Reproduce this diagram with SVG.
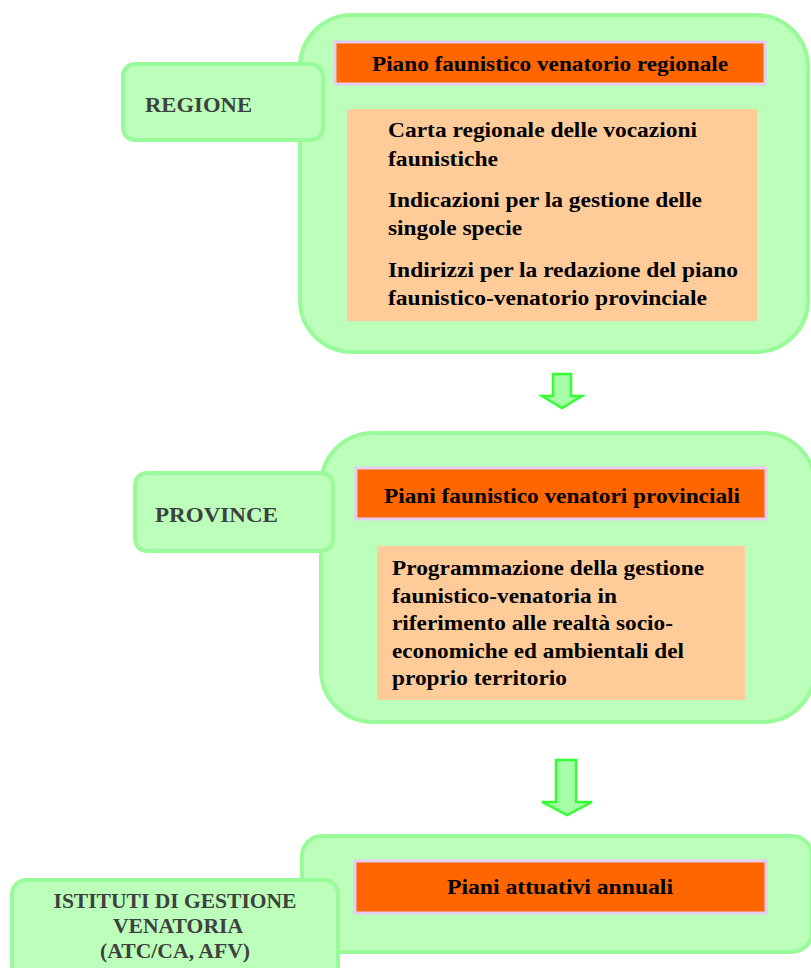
<svg xmlns="http://www.w3.org/2000/svg" width="811" height="968" viewBox="0 0 811 968">
<style>
.big{fill:#BBFFBB;stroke:#99FA99;stroke-width:4}
.lbl{fill:#BBFFBB;stroke:#99FA99;stroke-width:4}
.title{fill:#FF6600;stroke:#E6CCF2;stroke-width:3}
.peach{fill:#FFCC99;stroke:none}
.arrow{fill:#A6FFA6;stroke:#33FF33;stroke-width:2.5;stroke-linejoin:miter}
text{font-family:"Liberation Serif","Times New Roman",serif;font-weight:bold;font-size:22px;fill:#000}
.lt{fill:#404040}
</style>
<rect width="811" height="968" fill="#FFFFFF"/>
<g id="regione-panel">
<rect class="big" x="300" y="15" width="508" height="337" rx="52" ry="52"/>
<rect class="title" x="335" y="42" width="430" height="42"/>
<text x="550" y="71" text-anchor="middle" textLength="356" lengthAdjust="spacingAndGlyphs" style="font-size:21px">Piano faunistico venatorio regionale</text>
<rect class="peach" x="347" y="109" width="410" height="212"/>
<text x="388" y="137" textLength="309" lengthAdjust="spacingAndGlyphs">Carta regionale delle vocazioni</text>
<text x="388" y="166" textLength="110" lengthAdjust="spacingAndGlyphs">faunistiche</text>
<text x="388" y="207" textLength="314" lengthAdjust="spacingAndGlyphs">Indicazioni per la gestione delle</text>
<text x="388" y="235" textLength="134" lengthAdjust="spacingAndGlyphs">singole specie</text>
<text x="388" y="277" textLength="350" lengthAdjust="spacingAndGlyphs">Indirizzi per la redazione del piano</text>
<text x="388" y="305" textLength="319" lengthAdjust="spacingAndGlyphs">faunistico-venatorio provinciale</text>
</g>
<g id="regione-label">
<rect class="lbl" x="123" y="64" width="200" height="76" rx="12" ry="12"/>
<text class="lt" x="145" y="112" textLength="107" lengthAdjust="spacingAndGlyphs">REGIONE</text>
</g>
<g id="province-panel">
<rect class="big" x="321" y="433" width="494" height="289" rx="52" ry="52"/>
<rect class="title" x="356" y="468" width="410" height="51"/>
<text x="562" y="503" text-anchor="middle" textLength="356" lengthAdjust="spacingAndGlyphs" style="font-size:21px">Piani faunistico venatori provinciali</text>
<rect class="peach" x="377" y="546" width="368" height="154"/>
<text x="392" y="575" textLength="312" lengthAdjust="spacingAndGlyphs">Programmazione della gestione</text>
<text x="392" y="603" textLength="225" lengthAdjust="spacingAndGlyphs">faunistico-venatoria in</text>
<text x="392" y="630" textLength="281" lengthAdjust="spacingAndGlyphs">riferimento alle realtà socio-</text>
<text x="392" y="658" textLength="292" lengthAdjust="spacingAndGlyphs">economiche ed ambientali del</text>
<text x="392" y="685" textLength="175" lengthAdjust="spacingAndGlyphs">proprio territorio</text>
</g>
<g id="province-label">
<rect class="lbl" x="135" y="473" width="198" height="78" rx="12" ry="12"/>
<text class="lt" x="155" y="522" textLength="123" lengthAdjust="spacingAndGlyphs">PROVINCE</text>
</g>
<g id="istituti-panel">
<rect class="big" x="302" y="836" width="510" height="116" rx="20" ry="20"/>
<rect class="title" x="355" y="861" width="411" height="52"/>
<text x="560" y="894" text-anchor="middle" textLength="226" lengthAdjust="spacingAndGlyphs" style="font-size:21px">Piani attuativi annuali</text>
</g>
<g id="istituti-label">
<rect class="lbl" x="12" y="880" width="326" height="100" rx="14" ry="14"/>
<text class="lt" x="175" y="908" text-anchor="middle" textLength="243" lengthAdjust="spacingAndGlyphs" style="font-size:21px">ISTITUTI DI GESTIONE</text>
<text class="lt" x="178" y="933" text-anchor="middle" textLength="130" lengthAdjust="spacingAndGlyphs" style="font-size:21px">VENATORIA</text>
<text class="lt" x="175" y="958" text-anchor="middle" textLength="150" lengthAdjust="spacingAndGlyphs" style="font-size:21px">(ATC/CA, AFV)</text>
</g>
<g id="connectors">
<polygon class="arrow" points="553,374 571,374 571,396 582,396 562,408 542,396 553,396"/>
<polygon class="arrow" points="556,760 576,760 576,802 592,802 567,815 542,802 556,802"/>
</g>
</svg>
